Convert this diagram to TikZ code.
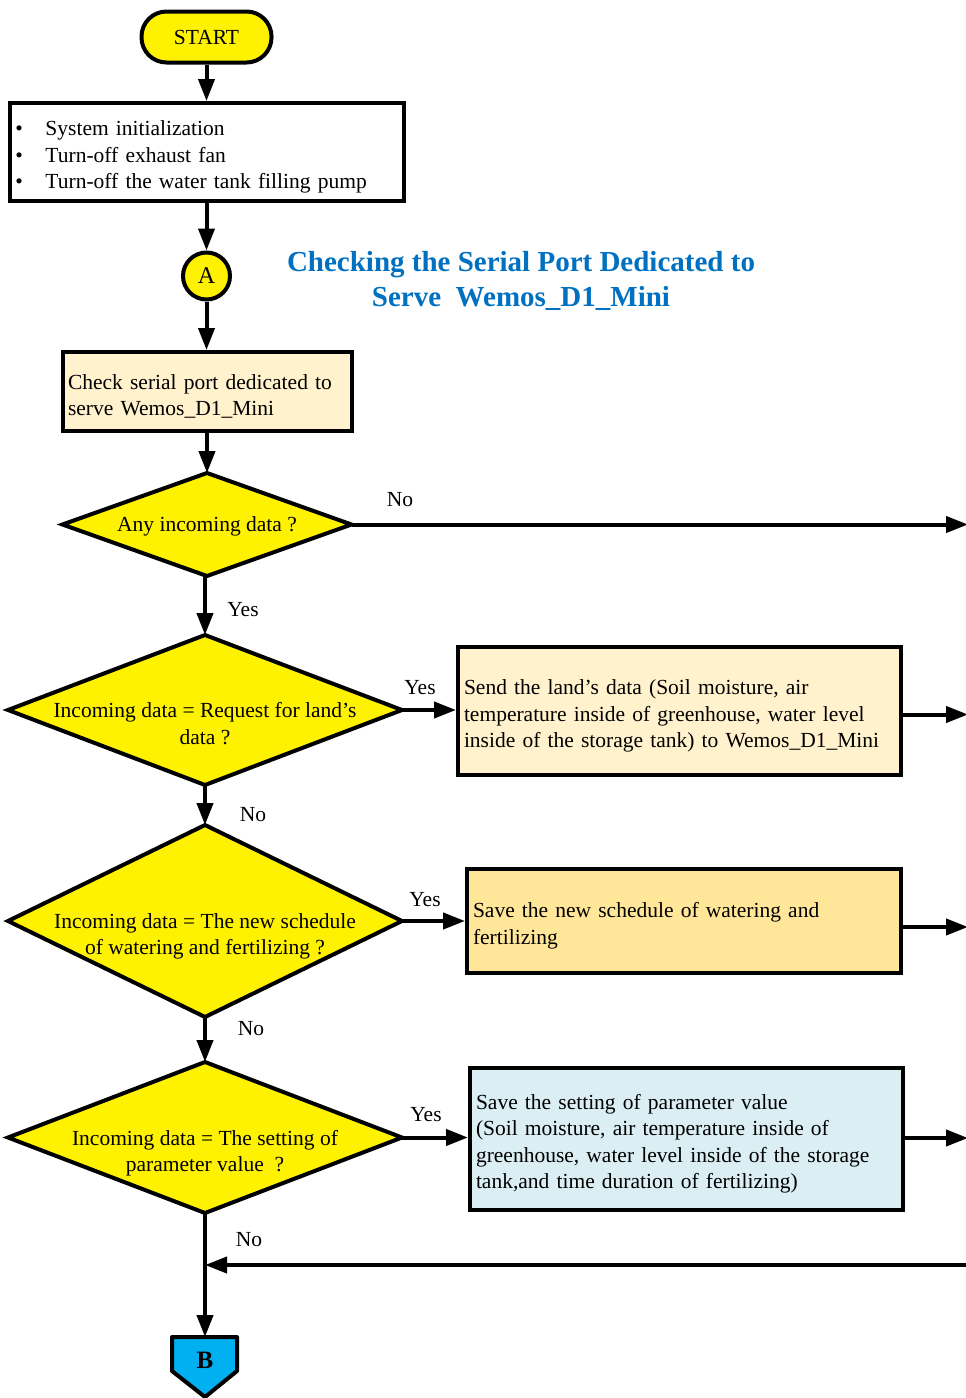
\documentclass[tikz,border=0pt]{standalone}
\usepackage{fontspec}
\setmainfont{Liberation Serif}
\usetikzlibrary{arrows.meta,shapes.geometric}
\definecolor{cream}{HTML}{FFF2CC}
\definecolor{gold}{HTML}{FFE699}
\definecolor{lblue}{HTML}{DAEEF3}
\definecolor{titleblue}{HTML}{0070C0}
\definecolor{bblue}{HTML}{00B0F0}
\newcommand{\fstrut}{\rule{0pt}{25pt}}
\begin{document}
\begin{tikzpicture}[x=1pt,y=-1pt,
  txt/.style={font=\fontsize{21.5}{26.5}\selectfont},
  arr/.style={line width=4pt,-{Triangle[length=22pt,width=16pt]}},
  box/.style={draw,line width=4pt,rectangle,inner ysep=0pt,inner xsep=6pt,align=left,txt},
  dia/.style={draw,shape=diamond,line width=4pt,fill=yellow,inner sep=0pt,outer sep=0pt},
  lbl/.style={txt,inner sep=0pt},
  conn/.style={draw,circle,line width=4pt,fill=yellow,minimum size=47pt,inner sep=0pt,font=\fontsize{24}{26}\selectfont}]
\useasboundingbox (0,0) rectangle (966,1398);

% start
\node[draw,line width=4pt,fill=yellow,rounded corners=25pt,minimum width=130pt,minimum height=51pt,txt] (start) at (206.5,37) {START};

% init box
\node[box,fill=white,text width=382pt,minimum height=98pt] (init) at (206.5,152)
 {\fstrut\makebox[30pt][l]{\textbullet}System initialization\\
  \makebox[30pt][l]{\textbullet}Turn-off exhaust fan\\
  \makebox[30pt][l]{\textbullet}Turn-off the water tank filling pump};

% connector A
\node[conn] (A) at (206.5,276) {A};

% title
\node[font=\fontsize{29}{35}\selectfont\bfseries,text=titleblue,align=center] (title) at (521,281)
 {Checking the Serial Port Dedicated to\\Serve\ \ Wemos\_D1\_Mini};

% check box
\node[box,fill=cream,inner xsep=5pt,text width=279pt,minimum height=79pt] (check) at (207.5,391.5)
 {\fstrut Check serial port dedicated to\\serve Wemos\_D1\_Mini};

% diamonds
\node[dia,minimum width=289pt,minimum height=103pt] (d1) at (207,524.5) {};
\node[txt] at ([yshift=-2pt]d1) {Any incoming data ?};
\node[dia,minimum width=394pt,minimum height=150pt] (d2) at (205,710) {};
\node[txt,align=center] at ([yshift=-13.5pt]d2) {Incoming data = Request for land’s\\data ?};
\node[dia,minimum width=394pt,minimum height=192pt] (d3) at (205,921) {};
\node[txt,align=center] at ([yshift=-15.5pt]d3) {Incoming data = The new schedule\\of watering and fertilizing ?};
\node[dia,minimum width=394pt,minimum height=151pt] (d4) at (205,1137.5) {};
\node[txt,align=center] at ([yshift=-15.5pt]d4) {Incoming data = The setting of\\parameter value\ \ ?};

% action boxes
\node[box,fill=cream,text width=431pt,minimum height=128pt] (b2) at (679.5,711)
 {\fstrut Send the land’s data (Soil moisture, air\\temperature inside of greenhouse, water level\\inside of the storage tank) to Wemos\_D1\_Mini};
\node[box,fill=gold,text width=422pt,minimum height=104pt] (b3) at (684,921)
 {\fstrut Save the new schedule of watering and\\fertilizing\\[8pt]};
\node[box,fill=lblue,text width=421pt,minimum height=142pt] (b4) at (686.5,1139)
 {\fstrut Save the setting of parameter value\\(Soil moisture, air temperature inside of\\greenhouse, water level inside of the storage\\tank,and time duration of fertilizing)};

% B off-page connector
\coordinate (Btop) at (205,1337);
\draw[line width=4pt,fill=bblue,line join=round] (172,1337) -- (237,1337) -- (237,1371) -- (205,1397) -- (172,1371) -- cycle;
\node[font=\fontsize{25}{26}\selectfont\bfseries] (B) at (205,1360) {B};

% coordinates for free ends
\coordinate (e1) at (968,524.5);
\coordinate (e2) at (968,714.5);
\coordinate (e3) at (968,927);
\coordinate (e4) at (968,1138);
\coordinate (back) at (968,1265);
\coordinate (join) at (205,1265);

% connectors
\draw[arr] (start) -- (init);
\draw[arr] (init) -- (A);
\draw[arr] (A.south) -- (A.south |- check.north);
\draw[arr] (check.south -| d1.north) -- (d1.north);
\draw[arr] (d1.east) -- (e1);
\draw[arr] (d2.north |- d1.south) -- (d2.north);
\draw[arr] (d2.east) -- (b2.west |- d2.east);
\draw[arr] (b2.east |- e2) -- (e2);
\draw[arr] (d2.south) -- (d3.north);
\draw[arr] (d3.east) -- (b3.west |- d3.east);
\draw[arr] (b3.east |- e3) -- (e3);
\draw[arr] (d3.south) -- (d4.north);
\draw[arr] (d4.east) -- (b4.west |- d4.east);
\draw[arr] (b4.east |- e4) -- (e4);
\draw[arr] (d4.south) -- (Btop);
\draw[arr] (back) -- (join);

% labels
\node[lbl] at (400,500) {No};
\node[lbl] at (243,610) {Yes};
\node[lbl] at (420,688) {Yes};
\node[lbl] at (253,815) {No};
\node[lbl] at (425,900) {Yes};
\node[lbl] at (251,1029) {No};
\node[lbl] at (426,1115) {Yes};
\node[lbl] at (249,1240) {No};
\end{tikzpicture}
\end{document}
